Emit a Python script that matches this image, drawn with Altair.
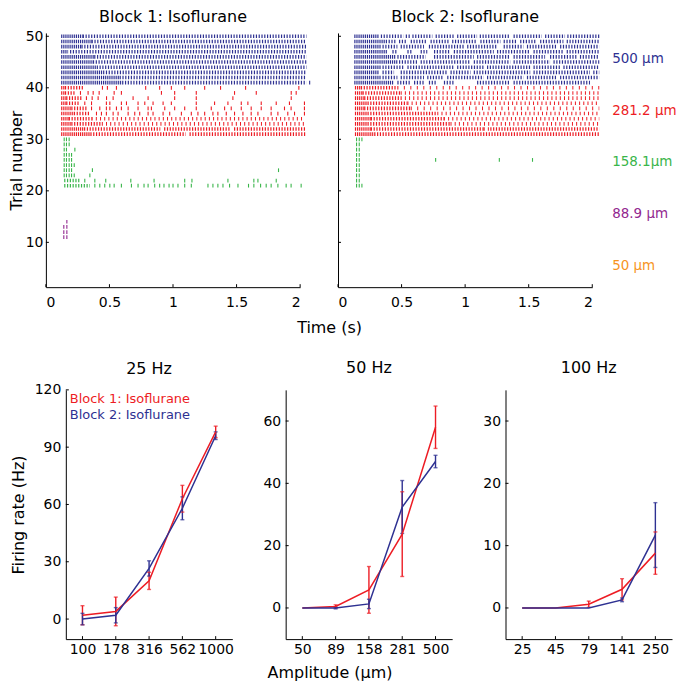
import json
import altair as alt
import pandas as pd

FONT = "DejaVu Sans"

# ---------------- raster (top row) ----------------
AMP_NAMES = ["500 μm", "281.2 μm", "158.1μm", "88.9 μm", "50 μm"]
AMP_COLORS = ["#2e3192", "#ed1c24", "#39b54a", "#92278f", "#f7941d"]
AMP_LABEL_TRIAL = [45.5, 35.5, 25.5, 15.5, 5.5]
RASTER_TITLES = ["Block 1: Isoflurane", "Block 2: Isoflurane"]
TRIAL_TICKS = [10, 20, 30, 40, 50]
TIME_TICKS = [0, 0.5, 1, 1.5, 2]
RUN_KINDS = ["burst", "tonic", "sparse", "vsparse"]

# runs of regular firing: trial -> [(start ms, end ms, kind)]
B1_RUNS = {
    50: [(120, 290, "burst"), (290, 2050, "tonic")],
    49: [(120, 360, "burst"), (360, 2050, "tonic")],
    48: [(120, 280, "burst"), (280, 2050, "tonic")],
    47: [(120, 175, "burst"), (190, 2050, "tonic")],
    46: [(120, 380, "burst"), (380, 2050, "tonic")],
    45: [(120, 370, "burst"), (370, 2050, "tonic")],
    44: [(120, 400, "burst"), (400, 2050, "tonic")],
    43: [(120, 450, "burst"), (450, 2050, "tonic")],
    42: [(120, 580, "burst"), (580, 2050, "tonic")],
    41: [(120, 600, "burst"), (600, 2050, "tonic")],
    40: [(120, 150, "burst"), (150, 300, "tonic")],
    39: [(120, 150, "burst"), (150, 230, "tonic")],
    38: [(120, 160, "burst"), (160, 280, "tonic")],
    37: [(120, 160, "burst"), (160, 265, "tonic")],
    36: [(120, 200, "burst"), (200, 320, "tonic")],
    35: [(120, 220, "burst"), (220, 345, "tonic")],
    34: [(120, 180, "burst"), (180, 360, "tonic"), (360, 2040, "sparse")],
    33: [(120, 200, "burst"), (200, 440, "tonic"), (440, 2040, "sparse")],
    32: [(120, 300, "burst"), (300, 900, "tonic"), (930, 1450, "tonic"), (1480, 2040, "tonic")],
    31: [(120, 350, "burst"), (350, 1100, "tonic"), (1130, 2040, "tonic")],
    22: [(144, 265, "tonic")],
    21: [(144, 346, "tonic")],
}
# isolated spikes: trial -> [ms]
B1_SPIKES = {
    41: [2075],
    40: [445, 484, 555, 785, 895, 987, 1092, 1249, 1374, 1571, 1990],
    39: [272, 332, 372, 419, 537, 594, 909, 1013, 1183, 1484, 1655, 1930, 1969],
    38: [319, 364, 411, 477, 529, 686, 804, 1013, 1183, 1471, 1930],
    37: [306, 359, 476, 503, 594, 634, 725, 778, 843, 922, 987, 1183, 1327, 1432,
         1537, 1589, 1694, 1812, 1916, 2034],
    36: [359, 424, 476, 503, 555, 594, 647, 725, 804, 830, 935, 1013, 1092, 1183,
         1301, 1406, 1458, 1537, 1615, 1694, 1772, 1877, 1929, 2034],
    35: [398, 437, 476, 529, 568, 647, 699, 738, 804, 843, 922, 974, 1066, 1144,
         1196, 1249, 1314, 1353, 1419, 1484, 1550, 1615, 1668, 1772, 1825, 1903,
         1956, 2034],
    30: [144, 162, 183],
    29: [144, 162, 183],
    28: [144, 162, 228],
    27: [144, 162, 183, 202],
    26: [144, 162, 183, 202],
    25: [144, 162, 183, 202, 223],
    24: [144, 162, 183, 202, 366, 1830],
    23: [144, 162, 183, 202, 223, 346],
    22: [306, 385, 471, 668, 851, 1092, 1149, 1432, 1636, 1668, 1812],
    21: [385, 424, 463, 503, 537, 594, 673, 725, 772, 804, 856, 895, 929, 969,
         1000, 1039, 1092, 1144, 1275, 1314, 1353, 1393, 1445, 1511, 1594, 1636,
         1689, 1733, 1772, 1825, 1890, 1929, 2008],
    14: [165],
    13: [141, 165],
    12: [141, 165],
    11: [141, 165],
}
B2_RUNS = {
    50: [(128, 324, "burst"), (337, 514, "tonic"), (533, 567, "tonic"), (585, 742, "tonic"),
         (768, 911, "tonic"), (937, 1094, "tonic"), (1115, 1355, "tonic"),
         (1381, 1603, "tonic"), (1629, 1786, "tonic"), (1804, 2055, "tonic")],
    49: [(128, 368, "burst"), (376, 454, "tonic"), (480, 546, "tonic"), (572, 702, "tonic"),
         (728, 872, "tonic"), (898, 1094, "tonic"), (1120, 1277, "tonic"),
         (1303, 1407, "tonic"), (1433, 1564, "tonic"), (1590, 1773, "tonic"),
         (1799, 2055, "tonic")],
    48: [(128, 337, "burst"), (350, 467, "tonic"), (493, 676, "tonic"), (715, 990, "tonic"),
         (1016, 1251, "tonic"), (1303, 1459, "tonic"), (1486, 1721, "tonic"),
         (1747, 2055, "tonic")],
    47: [(128, 389, "burst"), (428, 467, "tonic"), (546, 585, "tonic"), (650, 702, "tonic"),
         (755, 885, "tonic"), (911, 1225, "tonic"), (1251, 1512, "tonic"),
         (1538, 1773, "tonic"), (1799, 2055, "tonic")],
    46: [(128, 454, "burst"), (467, 689, "tonic"), (755, 1068, "tonic"),
         (1094, 1355, "tonic"), (1381, 1629, "tonic"), (1668, 1877, "tonic"),
         (1903, 2055, "tonic")],
    45: [(128, 467, "burst"), (480, 624, "tonic"), (650, 1042, "tonic"),
         (1068, 1355, "tonic"), (1381, 1668, "tonic"), (1695, 2055, "tonic")],
    44: [(128, 337, "burst"), (350, 520, "tonic"), (546, 911, "tonic"), (937, 1146, "tonic"),
         (1172, 1512, "tonic"), (1538, 1747, "tonic"), (1773, 2055, "tonic")],
    43: [(128, 324, "burst"), (350, 441, "tonic"), (493, 859, "tonic"), (885, 1042, "tonic"),
         (1068, 1512, "tonic"), (1538, 1982, "tonic"), (2008, 2055, "tonic")],
    42: [(128, 337, "burst"), (350, 467, "tonic"), (493, 676, "tonic"), (702, 833, "tonic"),
         (859, 1146, "tonic"), (1172, 1459, "tonic"), (1486, 1721, "tonic"),
         (1747, 2055, "tonic")],
    41: [(128, 441, "burst"), (467, 572, "tonic"), (598, 676, "tonic"), (715, 781, "tonic"),
         (833, 911, "tonic"), (1094, 1355, "tonic"), (1381, 1982, "tonic")],
    40: [(133, 180, "burst"), (180, 467, "tonic"), (467, 2055, "vsparse")],
    39: [(133, 193, "burst"), (193, 493, "tonic"), (493, 2055, "sparse")],
    38: [(133, 206, "burst"), (206, 493, "tonic"), (493, 2055, "sparse")],
    37: [(133, 232, "burst"), (232, 546, "tonic"), (546, 2055, "sparse")],
    36: [(133, 206, "burst"), (206, 572, "tonic"), (572, 2055, "vsparse")],
    35: [(133, 232, "burst"), (232, 781, "tonic"), (781, 2055, "sparse")],
    34: [(133, 258, "burst"), (258, 833, "tonic"), (833, 2055, "sparse")],
    33: [(133, 232, "burst"), (232, 885, "tonic"), (885, 2055, "sparse")],
    32: [(133, 258, "burst"), (258, 1146, "tonic"), (1146, 1198, "sparse"), (1198, 2055, "tonic")],
    31: [(133, 285, "burst"), (285, 2055, "tonic")],
}
B2_SPIKES = {
    30: [146, 167, 188], 29: [146, 167], 28: [146, 167], 27: [146, 167],
    26: [146, 167, 768, 1269, 1530], 25: [146, 167], 24: [146, 167],
    23: [146, 167], 22: [146, 167], 21: [146, 167, 188],
}

# ---------------- firing rates (bottom row) ----------------
FREQ_TITLES = ["25 Hz", "50 Hz", "100 Hz"]
AMP_TICK_LABELS = [["100", "178", "316", "562", "1000"],
                   ["50", "89", "158", "281", "500"],
                   ["25", "45", "79", "141", "250"]]
SERIES = ["Block 1: Isoflurane", "Block 2: Isoflurane"]
SERIES_COLORS = ["#ed1c24", "#2e3192"]
RATE_B1 = [[2, 4, 20, 63, 98], [0, 0.5, 5.8, 23.7, 58], [0, 0, 0.6, 3.0, 8.8]]
ERR_B1 = [[5, 7.5, 4.5, 7, 3], [0, 0.5, 7.5, 13.6, 6.8], [0, 0, 0.5, 1.7, 3.4]]
RATE_B2 = [[0, 2, 26.5, 58, 96], [0, 0, 1.3, 32.4, 47], [0, 0, 0, 1.3, 11.7]]
ERR_B2 = [[3, 4, 4, 6, 2], [0, 0.3, 1.5, 8.5, 2], [0, 0, 0, 0.3, 5.2]]
RATE_Y_DOMAIN = [[-10.5, 120], [-10, 70], [-5, 35]]
RATE_Y_TICKS = [[0, 30, 60, 90, 120], [0, 20, 40, 60], [0, 10, 20, 30]]

W_TOP, H_TOP = 255, 255
W_BOT, H_BOT = 167, 250
TICK = 3
# title offsets (panels whose top tick label pokes above the frame get less)
RASTER_TITLE_OFFSET = [4, 7.5]
RATE_TITLE_OFFSET = [5.5, 13.5, 13.5]

amp_color = alt.Scale(domain=AMP_NAMES, range=AMP_COLORS)
dash_scale = alt.Scale(domain=RUN_KINDS, range=[[1.2, 0.9], [1.2, 1.6], [1, 3.2], [1, 5.5]])
series_color = alt.Scale(domain=SERIES, range=SERIES_COLORS)


def amp_of(trial):
    return AMP_NAMES[(50 - trial) // 10]


def raster_panel(b):
    runs, spikes = [(B1_RUNS, B1_SPIKES), (B2_RUNS, B2_SPIKES)][b]
    first = b == 0
    seg_df = pd.DataFrame([
        {"trial": tr, "t0": a / 1000, "t1": e / 1000, "kind": k, "amp": amp_of(tr)}
        for tr, lst in runs.items() for a, e, k in lst])
    spk_df = pd.DataFrame([
        {"trial": tr, "t": s / 1000, "amp": amp_of(tr)}
        for tr, lst in spikes.items() for s in lst])
    xs = alt.Scale(domain=[0, 2], nice=False, zero=False)
    ys = alt.Scale(domain=[1.3, 50.65], nice=False, zero=False)
    xkw = dict(values=TIME_TICKS, format="~g", ticks=False, labelPadding=8, grid=False)
    if first:
        xaxis = alt.Axis(title="Time (s)", titleX=284, titleY=40, titleBaseline="middle",
                         titleAlign="center", **xkw)
        yaxis = alt.Axis(values=TRIAL_TICKS, ticks=False, grid=False, labelPadding=3,
                         title="Trial number", titlePadding=1)
    else:
        xaxis = alt.Axis(title=None, **xkw)
        yaxis = alt.Axis(values=TRIAL_TICKS, ticks=False, grid=False, labels=False, title=None)
    color = alt.Color("amp:N", scale=amp_color, legend=None)
    segs = alt.Chart(seg_df).mark_rule(strokeWidth=3.6, strokeCap="butt").encode(
        x=alt.X("t0:Q", scale=xs, axis=xaxis), x2="t1:Q",
        y=alt.Y("trial:Q", scale=ys, axis=yaxis),
        color=color,
        strokeDash=alt.StrokeDash("kind:N", scale=dash_scale, legend=None))
    spks = alt.Chart(spk_df).transform_calculate(
        lo="datum.trial - 0.36", hi="datum.trial + 0.36"
    ).mark_rule(strokeWidth=1.1).encode(
        x=alt.X("t:Q", scale=xs, axis=xaxis),
        y=alt.Y("lo:Q", scale=ys, axis=yaxis), y2="hi:Q",
        color=color)
    yt = alt.Chart(pd.DataFrame({"v": TRIAL_TICKS})).mark_rule(color="black").encode(
        y=alt.Y("v:Q", scale=ys, axis=yaxis), x=alt.value(0), x2=alt.value(TICK))
    xt = alt.Chart(pd.DataFrame({"v": TIME_TICKS})).mark_rule(color="black").encode(
        x=alt.X("v:Q", scale=xs, axis=xaxis), y=alt.value(H_TOP), y2=alt.value(H_TOP - TICK))
    layers = [segs, spks, yt, xt]
    if not first:
        lab_df = pd.DataFrame({"amp": AMP_NAMES, "yc": AMP_LABEL_TRIAL})
        labels = alt.Chart(lab_df).mark_text(align="left", baseline="middle", font=FONT,
                                             fontSize=13.5).encode(
            x=alt.value(275), y=alt.Y("yc:Q", scale=ys, axis=yaxis), text="amp:N",
            color=color)
        layers.append(labels)
    return alt.layer(*layers).properties(
        width=W_TOP, height=H_TOP,
        title=alt.Title(RASTER_TITLES[b], offset=RASTER_TITLE_OFFSET[b], anchor="middle",
                        frame="group"))


def rate_panel(i):
    rows = []
    for s, (rates, errs) in enumerate([(RATE_B1, ERR_B1), (RATE_B2, ERR_B2)]):
        for k in range(5):
            rows.append({"idx": k + 1, "series": SERIES[s], "rate": rates[i][k], "err": errs[i][k]})
    df = pd.DataFrame(rows)
    xs = alt.Scale(domain=[0.5, 5.5], nice=False, zero=False)
    ys = alt.Scale(domain=RATE_Y_DOMAIN[i], nice=False, zero=False)
    lab_expr = json.dumps(AMP_TICK_LABELS[i]) + "[datum.value - 1]"
    xkw = dict(values=[1, 2, 3, 4, 5], labelExpr=lab_expr, ticks=False, labelPadding=3, grid=False)
    if i == 1:
        xaxis = alt.Axis(title="Amplitude (μm)", titleX=44, titleY=33, titleBaseline="middle",
                         titleAlign="center", **xkw)
    else:
        xaxis = alt.Axis(title=None, **xkw)
    ykw = dict(values=RATE_Y_TICKS[i], ticks=False, labelPadding=5, grid=False)
    if i == 0:
        yaxis = alt.Axis(title="Firing rate (Hz)", titlePadding=8, **ykw)
    else:
        yaxis = alt.Axis(title=None, **ykw)
    col = alt.Color("series:N", scale=series_color, legend=None)
    X = alt.X("idx:Q", scale=xs, axis=xaxis)
    base = alt.Chart(df)
    lines = base.mark_line(strokeWidth=1.5).encode(
        x=X, y=alt.Y("rate:Q", scale=ys, axis=yaxis), color=col)
    eb = base.transform_filter("datum.err > 0").transform_calculate(
        lo="datum.rate - datum.err", hi="datum.rate + datum.err")
    bars = eb.mark_rule(strokeWidth=1.4).encode(
        x=X, y=alt.Y("lo:Q", scale=ys, axis=yaxis), y2="hi:Q", color=col)
    cap_lo = eb.mark_tick(orient="horizontal", size=4, thickness=1.4).encode(
        x=X, y=alt.Y("lo:Q", scale=ys, axis=yaxis), color=col)
    cap_hi = eb.mark_tick(orient="horizontal", size=4, thickness=1.4).encode(
        x=X, y=alt.Y("hi:Q", scale=ys, axis=yaxis), color=col)
    yt = alt.Chart(pd.DataFrame({"v": RATE_Y_TICKS[i]})).mark_rule(color="black").encode(
        y=alt.Y("v:Q", scale=ys, axis=yaxis), x=alt.value(0), x2=alt.value(TICK))
    xt = alt.Chart(pd.DataFrame({"idx": [1, 2, 3, 4, 5]})).mark_rule(color="black").encode(
        x=X, y=alt.value(H_BOT), y2=alt.value(H_BOT - TICK))
    layers = [bars, cap_lo, cap_hi, lines, yt, xt]
    if i == 0:
        for k, name in enumerate(SERIES):
            layers.append(alt.Chart(pd.DataFrame({"series": [name]})).mark_text(
                align="left", baseline="middle", font=FONT, fontSize=13).encode(
                x=alt.value(4), y=alt.value(9.5 + 16 * k), text="series:N", color=col))
    return alt.layer(*layers).properties(
        width=W_BOT, height=H_BOT,
        title=alt.Title(FREQ_TITLES[i], offset=RATE_TITLE_OFFSET[i], anchor="middle",
                        frame="group"))


top_row = alt.hconcat(raster_panel(0), raster_panel(1), spacing=38, bounds="flush")
spacer = alt.Chart(pd.DataFrame({"s": [0]})).mark_point(opacity=0).encode(
    x=alt.value(0), y=alt.value(0)).properties(width=20, height=H_BOT)
bottom_inner = alt.hconcat(*[rate_panel(i) for i in range(3)], spacing=53.5, bounds="flush")
bottom_row = alt.hconcat(spacer, bottom_inner, spacing=0, bounds="flush")

chart = alt.vconcat(top_row, bottom_row, spacing=25).resolve_scale(
    color="independent"
).properties(padding=0).configure_view(
    stroke=None
).configure_axis(
    labelFont=FONT, titleFont=FONT, labelFontSize=14, titleFontSize=16,
    labelColor="black", titleColor="black", domainColor="black", domainWidth=1,
    titleFontWeight="normal"
).configure_title(
    font=FONT, fontSize=16, fontWeight="normal", color="black"
)

chart.save("out.html", embed_options={"renderer": "svg", "actions": False})
